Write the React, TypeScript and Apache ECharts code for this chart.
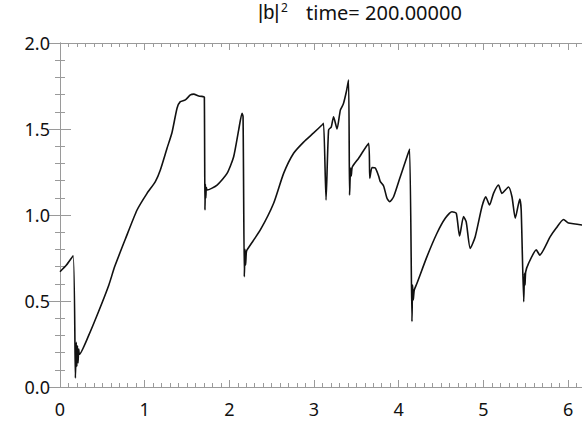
import React, { useEffect, useRef } from "react";
import * as echarts from "echarts";

// Domain and ticks
const X_MAX = 2 * Math.PI;
const xTickLabels = [0, 1, 2, 3, 4, 5, 6];
const yTickLabels = ["0.0", "0.5", "1.0", "1.5", "2.0"];

// |b|^2 profile at t = 200
const xs = [
  0, 0.076, 0.155, 0.182, 0.192, 0.199, 0.206, 0.213, 0.221, 0.229,
  0.339, 0.457, 0.575, 0.646, 0.772, 0.91, 1.028, 1.126, 1.185, 1.264,
  1.323, 1.383, 1.421, 1.48, 1.54, 1.579, 1.638, 1.697, 1.705, 1.712,
  1.717, 1.722, 1.728, 1.737, 1.855, 1.973, 2.051, 2.11, 2.15, 2.162,
  2.177, 2.185, 2.192, 2.2, 2.209, 2.366, 2.523, 2.641, 2.759, 2.877,
  2.995, 3.094, 3.113, 3.142, 3.172, 3.204, 3.231, 3.272, 3.311, 3.346,
  3.381, 3.408, 3.42, 3.432, 3.44, 3.452, 3.527, 3.645, 3.659, 3.685,
  3.724, 3.763, 3.783, 3.822, 3.862, 3.893, 3.94, 4.019, 4.098, 4.129,
  4.157, 4.164, 4.172, 4.184, 4.216, 4.334, 4.452, 4.55, 4.629, 4.68,
  4.719, 4.766, 4.798, 4.845, 4.904, 4.983, 5.028, 5.073, 5.12, 5.179,
  5.22, 5.297, 5.338, 5.377, 5.43, 5.447, 5.477, 5.486, 5.492, 5.5,
  5.534, 5.625, 5.666, 5.79, 5.861, 5.947, 6.006, 6.085, 6.164, 6.283,
];
const b2 = [
  0.67, 0.709, 0.763, 0.052, 0.26, 0.12, 0.24, 0.14, 0.22, 0.19,
  0.3, 0.44, 0.59, 0.7, 0.86, 1.029, 1.126, 1.194, 1.262, 1.388,
  1.48, 1.622, 1.659, 1.669, 1.698, 1.703, 1.692, 1.688, 1.686, 1.029,
  1.18, 1.1, 1.16, 1.145, 1.174, 1.242, 1.339, 1.494, 1.591, 1.572,
  0.641, 0.8, 0.71, 0.78, 0.797, 0.913, 1.068, 1.242, 1.359, 1.424,
  1.477, 1.523, 1.533, 1.087, 1.494, 1.512, 1.571, 1.5, 1.61, 1.645,
  1.715, 1.785, 1.116, 1.273, 1.227, 1.279, 1.33, 1.417, 1.213, 1.276,
  1.273, 1.227, 1.194, 1.169, 1.097, 1.077, 1.106, 1.223, 1.339, 1.384,
  0.38, 0.593, 0.506, 0.564, 0.603, 0.758, 0.894, 0.981, 1.019, 1.01,
  0.878, 0.991, 0.959, 0.806, 0.874, 1.048, 1.106, 1.058, 1.126, 1.174,
  1.126, 1.163, 1.106, 0.981, 1.093, 1.029, 0.496, 0.661, 0.593, 0.669,
  0.719, 0.797, 0.767, 0.874, 0.924, 0.974, 0.953, 0.948, 0.942, 0.945,
];

const FONT = '"Noto Sans", "Open Sans", sans-serif';
const TITLE_BAR_FONT = '"Liberation Sans", "Noto Sans", sans-serif';
const AXIS_GRAY = "#9a9a9a";
const INK = "#111";

function xAxisDef(position: "top" | "bottom", minor: boolean, labels: boolean) {
  return {
    type: "value",
    position,
    min: 0,
    max: X_MAX,
    interval: minor ? 0.1 : 1,
    axisLine: { show: !minor, lineStyle: { color: AXIS_GRAY, width: 1 } },
    axisTick: { show: true, inside: true, length: minor ? 4 : 7, lineStyle: { color: AXIS_GRAY, width: 1 } },
    axisLabel: {
      show: labels,
      margin: 13,
      fontSize: 18,
      color: INK,
      fontFamily: FONT,
      formatter: (v: number) => (xTickLabels.includes(v) ? String(v) : ""),
    },
    splitLine: { show: false },
  };
}

function yAxisDef(position: "left" | "right", labels: boolean) {
  return {
    type: "value",
    position,
    min: 0,
    max: 2,
    interval: 0.5,
    axisLine: { show: true, lineStyle: { color: AXIS_GRAY, width: 1 } },
    axisTick: { show: true, inside: true, length: 11, lineStyle: { color: AXIS_GRAY, width: 1 } },
    minorTick: { show: true, splitNumber: 5, length: 5, lineStyle: { color: AXIS_GRAY, width: 1 } },
    axisLabel: {
      show: labels,
      margin: 10,
      fontSize: 18,
      color: INK,
      fontFamily: FONT,
      formatter: (v: number) => yTickLabels[Math.round(v / 0.5)] ?? "",
    },
    splitLine: { show: false },
  };
}

export default function App() {
  const ref = useRef<HTMLDivElement>(null);

  useEffect(() => {
    if (!ref.current) return;
    const chart = echarts.init(ref.current, undefined, { renderer: "svg" });
    const data = xs.map((x, i) => [x, b2[i]]);
    chart.setOption({
      animation: false,
      backgroundColor: "#fff",
      grid: { left: 60, right: 8, top: 43, bottom: 36 },
      graphic: [
        { type: "text", left: 258, top: 2, style: { text: "|b|", fontSize: 20, fontFamily: TITLE_BAR_FONT, fill: INK } },
        { type: "text", left: 281, top: 1, style: { text: "2", fontSize: 12, fontFamily: FONT, fill: INK } },
        { type: "text", left: 306, top: 2, style: { text: "time= 200.00000", fontSize: 20, fontFamily: FONT, fill: INK } },
      ],
      xAxis: [
        xAxisDef("bottom", false, true),
        xAxisDef("bottom", true, false),
        xAxisDef("top", false, false),
        xAxisDef("top", true, false),
      ],
      yAxis: [yAxisDef("left", true), yAxisDef("right", false)],
      series: [
        {
          type: "line",
          xAxisIndex: 0,
          yAxisIndex: 0,
          data,
          showSymbol: false,
          smooth: 0.2,
          lineStyle: { color: INK, width: 1.6 },
        },
      ],
    });
    return () => chart.dispose();
  }, []);

  return (
    <div style={{ position: "fixed", left: 0, top: 0, width: 582, height: 423, overflow: "hidden", background: "#fff" }}>
      <div ref={ref} style={{ width: 600, height: 423 }} />
    </div>
  );
}
